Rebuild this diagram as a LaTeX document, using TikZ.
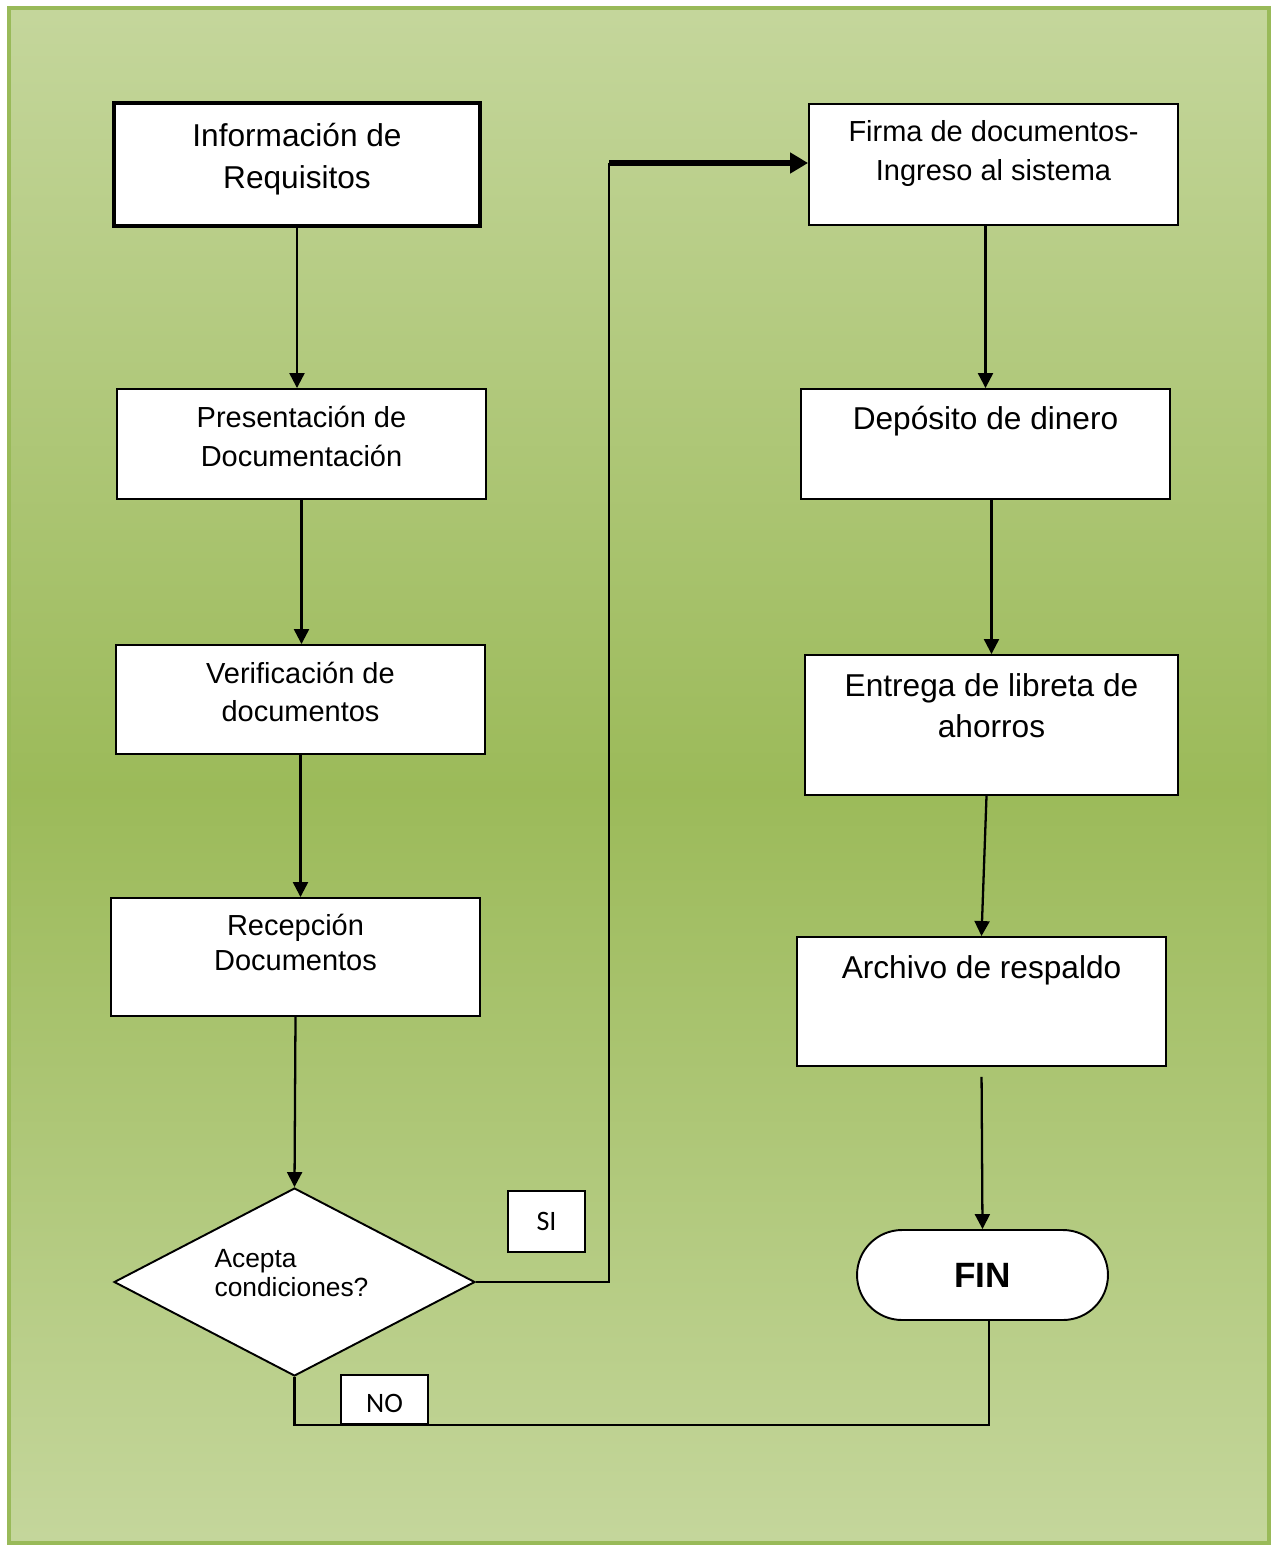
\documentclass[tikz,border=0pt]{standalone}
\usepackage{fontspec}
\setmainfont{Liberation Sans}
\newfontfamily\calibri{Carlito}
\usetikzlibrary{arrows.meta}
\usetikzlibrary{shapes.geometric}
\definecolor{verdepale}{rgb}{0.77,0.84,0.61}
\definecolor{verdeosc}{rgb}{0.61,0.73,0.35}
\definecolor{borde}{rgb}{0.60,0.73,0.35}

\begin{document}
\begin{tikzpicture}[x=0.02cm, y=-0.02cm, >={Triangle[length=0.3cm, width=0.3cm]}] % 1 unidad = 1 px
  \tikzstyle{paso}=[rectangle, draw=black, fill=white, line width=1.1pt, minimum width=7.38cm, inner sep=0pt]
  \tikzstyle{grande}=[font=\fontsize{18}{23.5}\selectfont, align=center]
  \tikzstyle{medio}=[font=\fontsize{16.5}{22}\selectfont, align=center]
  \tikzstyle{resp}=[rectangle, draw=black, fill=white, line width=1.1pt, inner sep=0pt, font=\calibri\fontsize{16}{19}\selectfont]
  \tikzstyle{flecha}=[->, line width=1.3pt]

  % fondo
  \useasboundingbox (0,0) rectangle (1272,1545);
  \shade[top color=verdepale, bottom color=verdeosc] (9,8) rectangle (1269,790);
  \shade[top color=verdeosc, bottom color=verdepale] (9,789) rectangle (1269,1543);
  \draw[borde, line width=2.2pt] (9,8) rectangle (1269,1543);

  % columna izquierda
  \node[paso, line width=2.2pt, minimum width=7.32cm, minimum height=2.46cm,
        label={[grande, yshift=0.11cm]center:Información de\\Requisitos}] (req) at (297,164.5) {};
  \node[paso, minimum height=2.2cm,
        label={[medio, yshift=0.15cm]center:Presentación de\\Documentación}] (pres) at (301.5,444) {};
  \node[paso, minimum height=2.18cm,
        label={[medio, yshift=0.15cm]center:Verificación de\\documentos}] (verif) at (300.5,699.5) {};
  \node[paso, minimum height=2.36cm,
        label={[font=\fontsize{16.5}{19.5}\selectfont, align=center, yshift=0.29cm]center:Recepción\\Documentos}] (recep) at (295.5,957) {};
  \node[diamond, draw=black, fill=white, line width=1.1pt, inner sep=0pt, minimum width=7.22cm, minimum height=3.76cm,
        label={[font=\fontsize{15}{17}\selectfont, align=left, xshift=-0.06cm, yshift=0.18cm]center:Acepta\\condiciones?}] (acepta) at (294.5,1282) {};
  \node[resp, minimum width=1.54cm, minimum height=1.22cm] (si) at (546.5,1221.5) {SI};
  \node[resp, minimum width=1.74cm, minimum height=0.98cm,
        text height=0.52cm] (no) at (384.5,1399.5) {NO};

  % columna derecha
  \node[paso, minimum height=2.42cm,
        label={[medio, yshift=0.22cm]center:Firma de documentos-\\Ingreso al sistema}] (firma) at (993.5,164.5) {};
  \node[paso, minimum height=2.2cm,
        label={[grande, yshift=0.46cm]center:Depósito de dinero}] (dep) at (985.5,444) {};
  \node[paso, minimum width=7.46cm, minimum height=2.8cm,
        label={[grande, yshift=0.38cm]center:Entrega de libreta de\\ahorros}] (entrega) at (991.5,725) {};
  \node[paso, minimum height=2.58cm,
        label={[grande, yshift=0.63cm]center:Archivo de respaldo}] (archivo) at (981.5,1001.5) {};
  \node[rectangle, rounded corners=0.9cm, draw=black, fill=white, line width=1.1pt, minimum width=5.02cm, minimum height=1.8cm,
        font=\bfseries\fontsize{20}{24}\selectfont] (fin) at (982.5,1275) {FIN};

  % conectores
  \draw[flecha] (req.south) -- (req.south |- pres.north);
  \draw[flecha] (pres.south) -- (pres.south |- verif.north);
  \draw[flecha] (verif.south) -- (verif.south |- recep.north);
  \draw[flecha] (recep.south) -- (acepta.north);

  \coordinate (giro) at (609,163);
  \draw[line width=1.3pt] (acepta.east) -| (giro);
  \draw[->, line width=3pt, >={Triangle[length=0.36cm, width=0.4cm]}] (giro) -- (giro -| firma.west);

  \draw[flecha] (firma.south -| dep.north) -- (dep.north);
  \draw[flecha] (entrega.north |- dep.south) -- (entrega.north);
  \draw[flecha] ([xshift=-0.1cm]entrega.south) -- (archivo.north);
  \draw[flecha, shorten <=0.2cm] (archivo.south) -- (fin.north);

  \draw[line width=1.3pt] ([xshift=0.13cm]fin.south) |- (no.south) -| (acepta.south);

\end{tikzpicture}
\end{document}
